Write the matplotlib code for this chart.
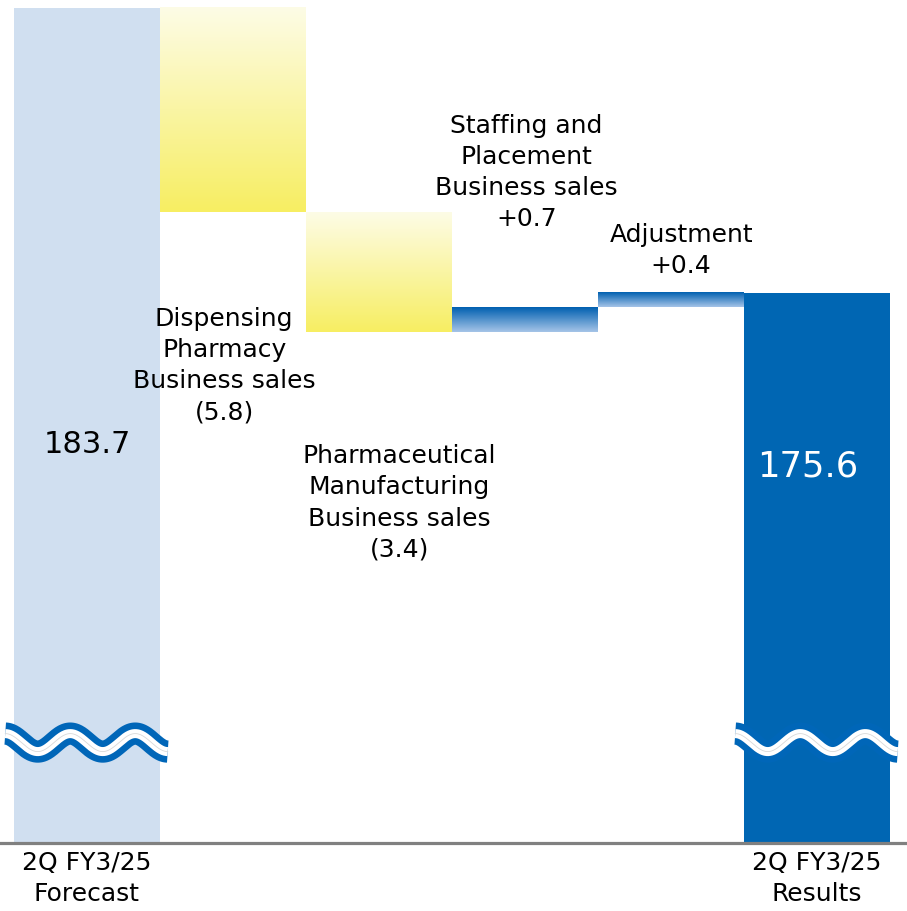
import numpy as np
import matplotlib
matplotlib.use('Agg')
import matplotlib.pyplot as plt
from matplotlib.colors import to_rgb

plt.rcParams['font.family'] = ['DejaVu Sans']

# 数据
steps = ['Forecast', 'Dispensing', 'Pharmaceutical', 'Staffing', 'Adjustment', 'Results']
changes = [183.7, -5.8, -3.4, 0.7, 0.4, 175.6]
step_labels = [
    '183.7',
    'Dispensing\nPharmacy\nBusiness sales\n(5.8)',
    'Pharmaceutical\nManufacturing\nBusiness sales\n(3.4)',
    'Staffing and\nPlacement\nBusiness sales\n+0.7',
    'Adjustment\n+0.4',
    '175.6',
]
tick_labels = ['2Q FY3/25\nForecast', '2Q FY3/25\nResults']
base = 160.0   # 断轴后的底部

# 颜色
c_forecast = '#d0dff0'
c_result = '#0066b3'
c_wave = '#0066b8'
yellow_top, yellow_bot = '#fdfce6', '#f7ee62'
blue_top, blue_bot = '#0060b0', '#a6c4e8'

fig = plt.figure(figsize=(9.07, 9.11), dpi=100)
ax = fig.add_axes([0, 0, 1, 1])
ax.axis('off')

sy = 835 / 23.7  # 像素/单位
sx = 146.0


def grad_bar(x, y0, y1, ctop, cbot):
    n = 256
    t = np.linspace(0, 1, n)[:, None]
    a, b = np.array(to_rgb(ctop)), np.array(to_rgb(cbot))
    img = (a * (1 - t) + b * t)[:, None, :]
    ax.imshow(img, extent=(x - 0.5, x + 0.5, y0, y1), origin='upper',
              aspect='auto', interpolation='bilinear', zorder=2)


# 柱子
level = 0.0
for i, (name, v) in enumerate(zip(steps, changes)):
    if i == 0:
        ax.bar(i, v - base, bottom=base, width=0.995, color=c_forecast, zorder=2)
        level = v
    elif i == len(steps) - 1:
        ax.bar(i, v - base, bottom=base, width=0.995, color=c_result, zorder=2)
    else:
        lo, hi = sorted([level, level + v])
        if v < 0:
            grad_bar(i, lo, hi, yellow_top, yellow_bot)
        else:
            grad_bar(i, lo, hi, blue_top, blue_bot)
        level += v

# 断轴波浪线
def wave(xc, yc):
    amp = 9 / sy
    period = 65 / sx
    xs = np.linspace(xc - 0.56, xc - 0.56 + 2.5 * period, 300)
    ys = yc + amp * np.cos(2 * np.pi * (xs - xs[0]) / period)
    ax.plot(xs, ys, color=c_wave, lw=16, solid_capstyle='butt', zorder=5)
    ax.plot(xs, ys, color='white', lw=6.5, solid_capstyle='butt', zorder=6)
    ax.plot(xs, ys, color='#d8d8d8', lw=0.6, zorder=7)

wave(0, 162.85)
wave(5, 162.85)

# 底线
ax.axhline(base, color='#808080', lw=2.3, zorder=8)

# 文本
fs = 18
ls = 1.37
ax.text(0, 171.3, step_labels[0], ha='center', va='center', fontsize=22, zorder=9)
ax.text(4.94, 170.7, step_labels[5], ha='center', va='center', fontsize=25.5,
        color='white', zorder=9)
ax.text(0.94, 173.54, step_labels[1], ha='center', va='center', fontsize=fs,
        linespacing=ls, zorder=9)
ax.text(2.14, 169.65, step_labels[2], ha='center', va='center', fontsize=fs,
        linespacing=ls, zorder=9)
ax.text(3.01, 179.03, step_labels[3], ha='center', va='center', fontsize=fs,
        linespacing=ls, zorder=9)
ax.text(4.07, 176.82, step_labels[4], ha='center', va='center', fontsize=fs,
        linespacing=ls, zorder=9)

ax.text(0, base - 0.22, tick_labels[0], ha='center', va='top', fontsize=fs,
        linespacing=ls)
ax.text(5, base - 0.22, tick_labels[1], ha='center', va='top', fontsize=fs,
        linespacing=ls)

ax.set_xlim(-87 / sx, (907 - 87) / sx)
ax.set_ylim(base - (911 - 843) / sy, 183.7 + 8 / sy)

fig.savefig('out.png', dpi=100)
